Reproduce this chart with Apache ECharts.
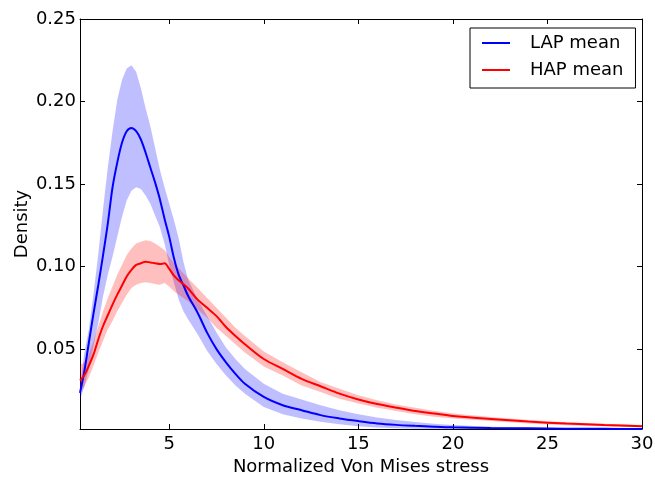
<!DOCTYPE html>
<html>
<head>
<meta charset="utf-8">
<script src="https://cdn.jsdelivr.net/npm/echarts@6/dist/echarts.min.js"></script>
<style>
  html, body { margin: 0; padding: 0; background: #fff; }
  #chart { width: 655px; height: 477px; }
</style>
</head>
<body>
<div id="chart"></div>
<script>
// x positions (normalized Von Mises stress) where the curves were read
var xVals = [0.28, 0.5, 0.75, 1, 1.25, 1.5, 1.75, 2, 2.25, 2.5, 2.75, 3, 3.25, 3.5, 3.75, 4, 4.25, 4.5, 4.75, 5, 5.25, 5.5, 5.75, 6,
  6.5, 7, 7.5, 8, 8.5, 9, 10, 11, 12, 13, 14, 15, 16, 17, 18, 19, 20, 22, 24, 26, 28, 30];

// LAP: mean density and band
var lapMean = [0.0235, 0.036, 0.054, 0.072, 0.089, 0.107, 0.126, 0.148, 0.163, 0.175, 0.182, 0.184, 0.182, 0.177, 0.169, 0.160, 0.151, 0.141, 0.129, 0.118, 0.105, 0.095, 0.0886, 0.0822,
  0.072, 0.060, 0.050, 0.042, 0.035, 0.029, 0.021, 0.016, 0.013, 0.010, 0.008, 0.0064, 0.0050, 0.0041, 0.0035, 0.0030, 0.0026, 0.0022, 0.0020, 0.0018, 0.0017, 0.0016];
var lapUpper = [0.027, 0.047, 0.062, 0.084, 0.108, 0.135, 0.160, 0.182, 0.201, 0.213, 0.220, 0.222, 0.218, 0.208, 0.196, 0.185, 0.172, 0.159, 0.148, 0.138, 0.128, 0.117, 0.103, 0.092,
  0.080, 0.070, 0.060, 0.051, 0.044, 0.038, 0.029, 0.023, 0.0195, 0.016, 0.013, 0.0105, 0.0085, 0.0070, 0.0058, 0.0048, 0.0040, 0.0030, 0.0024, 0.0020, 0.0018, 0.0017];
var lapLower = [0.019, 0.027, 0.038, 0.052, 0.066, 0.082, 0.095, 0.106, 0.118, 0.130, 0.140, 0.146, 0.148, 0.147, 0.143, 0.138, 0.131, 0.124, 0.114, 0.101, 0.090, 0.080, 0.073, 0.068,
  0.059, 0.049, 0.041, 0.034, 0.028, 0.023, 0.015, 0.0105, 0.0080, 0.0060, 0.0045, 0.0033, 0.0025, 0.0020, 0.0017, 0.0016, 0.0016, 0.0016, 0.0016, 0.0016, 0.0016, 0.0016];

// HAP: mean density and band
var hapMean = [0.031, 0.034, 0.040, 0.047, 0.056, 0.064, 0.0705, 0.077, 0.083, 0.0885, 0.094, 0.098, 0.101, 0.102, 0.103, 0.1025, 0.102, 0.1015, 0.102, 0.0986, 0.0945, 0.0917, 0.0893, 0.0867,
  0.080, 0.075, 0.070, 0.0634, 0.058, 0.053, 0.044, 0.038, 0.032, 0.0275, 0.023, 0.0195, 0.0167, 0.0145, 0.0125, 0.011, 0.0095, 0.0077, 0.0061, 0.0049, 0.0040, 0.0033];
var hapUpper = [0.040, 0.042, 0.047, 0.055, 0.064, 0.073, 0.081, 0.088, 0.095, 0.101, 0.107, 0.111, 0.114, 0.115, 0.116, 0.1155, 0.114, 0.112, 0.110, 0.106, 0.102, 0.099, 0.096, 0.093,
  0.087, 0.081, 0.075, 0.069, 0.063, 0.058, 0.0485, 0.042, 0.036, 0.030, 0.026, 0.022, 0.019, 0.0165, 0.0145, 0.0126, 0.011, 0.0088, 0.0070, 0.0057, 0.0048, 0.0040];
var hapLower = [0.024, 0.027, 0.033, 0.040, 0.048, 0.055, 0.062, 0.067, 0.073, 0.078, 0.083, 0.087, 0.089, 0.090, 0.0905, 0.090, 0.0895, 0.089, 0.090, 0.088, 0.085, 0.083, 0.081, 0.079,
  0.074, 0.069, 0.063, 0.058, 0.053, 0.048, 0.0395, 0.034, 0.028, 0.024, 0.020, 0.017, 0.0145, 0.0125, 0.0105, 0.009, 0.008, 0.0064, 0.0050, 0.0039, 0.0032, 0.0026];

var FONT = 'DejaVu Sans';

function pairs(ys) {
  return xVals.map(function (x, i) { return [x, ys[i]]; });
}

// band polygon (upper edge then lower edge back), drawn through the axis scales
function band(name, lo, up, color) {
  return {
    name: name, type: 'custom', silent: true, clip: true,
    data: xVals.map(function (x, i) { return [x, lo[i], up[i]]; }),
    encode: { x: 0, y: [1, 2] },
    renderItem: function (params, api) {
      if (params.dataIndex !== 0) return null;
      var pts = [];
      for (var i = 0; i < xVals.length; i++) pts.push(api.coord([xVals[i], up[i]]));
      for (var j = xVals.length - 1; j >= 0; j--) pts.push(api.coord([xVals[j], lo[j]]));
      return {
        type: 'polygon',
        shape: { points: pts },
        style: { fill: color, stroke: null }
      };
    }
  };
}

var axisCommon = {
  axisLine: { show: true, lineStyle: { color: '#000', width: 1 } },
  axisTick: { show: true, inside: true, length: 5, lineStyle: { color: '#000' } },
  splitLine: { show: false }
};

var chart = echarts.init(document.getElementById('chart'), null, { renderer: 'canvas' });
var option = {
  animation: false,
  backgroundColor: '#fff',
  grid: { left: 80, right: 13, top: 19, bottom: 48, containLabel: false, outerBoundsMode: 'none' },
  legend: {
    orient: 'vertical',
    left: 470,
    top: 28,
    width: 162,
    padding: [6, 12, 9, 12],
    borderColor: '#000',
    borderWidth: 1,
    itemWidth: 28,
    itemHeight: 2,
    itemGap: 9,
    textStyle: { fontFamily: FONT, fontSize: 18, color: '#000', lineHeight: 18, padding: [0, 0, 0, 15] },
    data: [{ name: 'LAP mean', icon: 'rect' }, { name: 'HAP mean', icon: 'rect' }]
  },
  xAxis: [
    Object.assign({
      type: 'value', min: 0.28, max: 30, splitNumber: 6,
      name: 'Normalized Von Mises stress', nameLocation: 'middle', nameGap: 29, nameMoveOverlap: false,
      nameTextStyle: { fontFamily: FONT, fontSize: 18, color: '#000' },
      axisLabel: {
        fontFamily: FONT, fontSize: 18, color: '#000', margin: 6,
        formatter: function (v) { return v % 5 === 0 ? String(v) : ''; }
      }
    }, axisCommon),
    Object.assign({
      type: 'value', min: 0.28, max: 30, splitNumber: 6, position: 'top',
      axisLabel: { show: false }
    }, axisCommon)
  ],
  yAxis: [
    Object.assign({
      type: 'value', min: 0.0016, max: 0.25, splitNumber: 5,
      name: 'Density', nameLocation: 'middle', nameGap: 49, nameMoveOverlap: false,
      nameTextStyle: { fontFamily: FONT, fontSize: 18, color: '#000' },
      axisLabel: {
        fontFamily: FONT, fontSize: 18, color: '#000', margin: 4,
        formatter: function (v) {
          return Math.abs(Math.round(v * 20) - v * 20) < 1e-6 ? v.toFixed(2) : '';
        }
      }
    }, axisCommon),
    Object.assign({
      type: 'value', min: 0.0016, max: 0.25, splitNumber: 5, position: 'right',
      axisLabel: { show: false }
    }, axisCommon)
  ],
  series: [
    band('LAP band', lapLower, lapUpper, 'rgba(0,0,255,0.25)'),
    band('HAP band', hapLower, hapUpper, 'rgba(255,0,0,0.25)'),
    {
      name: 'LAP mean', type: 'line', symbol: 'none', smooth: 0.3,
      lineStyle: { color: '#0000ff', width: 2 }, itemStyle: { color: '#0000ff' },
      data: pairs(lapMean)
    },
    {
      name: 'HAP mean', type: 'line', symbol: 'none', smooth: 0.3,
      lineStyle: { color: '#ff0000', width: 2 }, itemStyle: { color: '#ff0000' },
      data: pairs(hapMean)
    }
  ]
};
chart.setOption(option);
</script>
</body>
</html>
